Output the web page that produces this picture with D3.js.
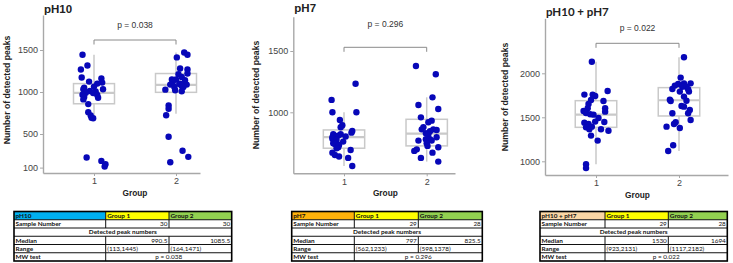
<!DOCTYPE html>
<meta charset="utf-8">
<style>
body { margin: 0; background: #fff; }
svg { display: block; }
svg text { font-family: "Liberation Sans", Arial, sans-serif; }
.axis .domain { stroke: #a8a8a8; stroke-width: 1.4; }
.axis .tick line { stroke: #a8a8a8; }
.axis .tick text { fill: #444; font-size: 9px; font-family: "Liberation Sans", Arial, sans-serif; }
.tbl text { font-family: Lato, "Liberation Sans", sans-serif; font-size: 6.4px; fill: #111; }
</style>
<body>
<svg width="733" height="263"></svg>
<script src="https://d3js.org/d3.v7.min.js"></script>
<script>
// values; jitter kept as group value + offset
var ph10G1 = [1444,1316,1268,1172,1160,1124,1112,1100,1064,1050,1032,1032,1012,1008,992,988,968,964,940,932,912,856,760,720,692,688,220,180,140,113];
var ph10G1X = [0.86,0.92,0.84,0.85,1.09,0.94,1.10,1.04,1.00,0.88,0.87,1.11,0.95,1.02,0.90,0.99,0.86,1.04,0.88,1.05,0.87,0.93,0.93,0.96,0.97,0.99,0.91,1.09,1.14,1.13];
var ph10G2 = [1471,1444,1412,1280,1268,1220,1212,1180,1148,1148,1140,1120,1100,1096,1088,1083,1088,1072,1060,1060,1028,1020,1008,840,800,724,468,300,228,164];
var ph10G2X = [2.10,2.14,2.01,2.05,2.14,2.14,2.03,2.07,2.00,1.95,2.11,1.96,2.05,2.04,1.93,2.09,2.13,2.07,1.98,2.09,1.87,1.99,2.07,1.91,1.91,1.88,1.91,2.08,2.15,1.93];

var ph7G1 = [1233,1101,1000,1000,937,894,878,848,834,821,821,810,802,802,797,785,775,761,747,742,734,715,707,693,671,652,639,628,562];
var ph7G1X = [1.14,0.85,0.86,1.15,0.95,0.98,0.96,1.10,1.09,0.87,0.96,0.93,0.90,1.02,0.86,0.86,0.91,0.99,0.87,0.89,0.94,0.93,0.91,1.08,0.86,0.89,0.94,1.05,1.10];
var ph7G2 = [1378,1310,1122,1060,1027,959,932,919,878,861,861,856,845,830,821,796,780,780,769,769,747,726,715,698,685,671,628,598];
var ph7G2X = [1.87,2.11,2.07,1.90,2.14,1.93,2.06,2.02,1.96,1.94,2.08,2.12,2.04,1.99,2.02,2.12,1.99,2.04,1.90,2.06,2.00,2.01,2.14,1.88,1.85,2.07,1.93,2.14];

var bothG1 = [2131,1799,1758,1758,1742,1697,1686,1652,1602,1602,1572,1564,1549,1535,1530,1492,1451,1447,1439,1424,1394,1386,1364,1364,1348,1292,1235,966,923];
var bothG1X = [0.95,1.14,0.86,0.96,0.99,0.94,1.09,0.91,0.90,1.11,0.85,1.11,0.88,0.93,0.97,1.03,0.99,1.10,0.86,0.91,0.95,0.88,0.92,1.06,1.15,0.94,1.02,0.88,0.88];
var bothG2 = [2182,1951,1886,1886,1879,1860,1848,1848,1822,1820,1792,1792,1735,1700,1688,1686,1629,1621,1583,1546,1546,1470,1443,1424,1394,1379,1182,1117];
var bothG2X = [2.06,2.02,2.06,2.14,1.99,1.95,2.04,2.09,1.92,2.11,2.01,2.12,2.06,1.89,2.09,1.90,2.03,2.06,2.13,2.11,1.92,2.14,1.96,1.94,1.85,2.01,1.93,1.87];

// box stats: [lower whisker, Q1, median, Q3, upper whisker]
var ph10Box = [[700,860,990.5,1100,1444],[740,996,1085.5,1220,1471]];
var ph7Box = [[562,707,797,856,1000],[598,726,825.5,943,1122]];
var bothBox = [[966,1386,1530,1689,2131],[1117,1515,1694,1837,2182]];

var ph10Ticks = [100,500,1000,1500];
var ph7Ticks = [1000,1500];
var bothTicks = [1000,1500,2000];

// table contents
var titles = ["pH10","pH7","pH10 + pH7"];
var sampleN = [[30,30],[29,28],[29,28]];
var medians = [["990.5","1085.5"],["797","825.5"],["1530","1694"]];
var ranges = [["(113,1445)","(164,1471)"],["(562,1233)","(598,1378)"],["(923,2131)","(1117,2182)"]];
var pValues = ["0.038","0.296","0.022"];

var svg = d3.select("svg");
var dotColor = "#0707b8", boxColor = "#c9c9c9";

var panels = [
  {title: titles[0], g1: ph10G1, g1x: ph10G1X, g2: ph10G2, g2x: ph10G2X, box: ph10Box, ticks: ph10Ticks,
   left: 43, right: 200, top: 15, bottom: 173, px1: 94, px2: 176, yA: [1000, 92], yB: [1500, 50],
   bracketY: 40, pY: 27.5, titleY: 12.5, ylabX: 9.5, ylabY: 90, titleFont: "Liberation Sans",
   head: "#00b0f0", tbl: [14, 105.7, 169, 231.7]},
  {title: titles[1], g1: ph7G1, g1x: ph7G1X, g2: ph7G2, g2x: ph7G2X, box: ph7Box, ticks: ph7Ticks,
   left: 293.3, right: 455, top: 16.7, bottom: 173.3, px1: 344, px2: 426.7, yA: [1000, 112.3], yB: [1500, 51],
   bracketY: 47.3, pY: 27, titleY: 12, ylabX: 258.5, ylabY: 95, titleFont: "Liberation Sans",
   head: "#ffb20a", tbl: [291.7, 354.3, 418.3, 482.3]},
  {title: titles[2], g1: bothG1, g1x: bothG1X, g2: bothG2, g2x: bothG2X, box: bothBox, ticks: bothTicks,
   left: 545, right: 728, top: 18.3, bottom: 175, px1: 596, px2: 679, yA: [1000, 161.3], yB: [2000, 73.3],
   bracketY: 43.3, pY: 30.5, titleY: 15.5, ylabX: 508, ylabY: 97, titleFont: "Lato",
   head: "#fad6a5", tbl: [540, 605, 668.3, 727.3]}
];

panels.forEach(function(p, i) {
  var g = svg.append("g");

  var y = d3.scaleLinear().domain([p.yA[0], p.yB[0]]).range([p.yA[1], p.yB[1]]);
  y.domain([y.invert(p.bottom), y.invert(p.top)]).range([p.bottom, p.top]);
  var x = d3.scaleLinear().domain([1, 2]).range([p.px1, p.px2]);
  x.domain([x.invert(p.left), x.invert(p.right)]).range([p.left, p.right]);

  g.append("g")
      .attr("class", "axis")
      .attr("transform", "translate(" + p.left + ",0)")
      .call(d3.axisLeft(y).tickValues(p.ticks).tickFormat(d3.format("d")).tickSize(3).tickSizeOuter(0).tickPadding(2));

  g.append("g")
      .attr("class", "axis")
      .attr("transform", "translate(0," + p.bottom + ")")
      .call(d3.axisBottom(x).tickValues([1, 2]).tickFormat(d3.format("d")).tickSize(3).tickSizeOuter(0).tickPadding(2));

  // boxes
  p.box.forEach(function(b, k) {
    var c = k + 1, hw = 0.25;
    g.append("line")
        .attr("x1", x(c)).attr("x2", x(c))
        .attr("y1", y(b[4])).attr("y2", y(b[3]))
        .attr("stroke", boxColor).attr("stroke-width", 1.5);
    g.append("line")
        .attr("x1", x(c)).attr("x2", x(c))
        .attr("y1", y(b[1])).attr("y2", y(b[0]))
        .attr("stroke", boxColor).attr("stroke-width", 1.5);
    g.append("rect")
        .attr("x", x(c - hw)).attr("width", x(c + hw) - x(c - hw))
        .attr("y", y(b[3])).attr("height", y(b[1]) - y(b[3]))
        .attr("fill", "none").attr("stroke", boxColor).attr("stroke-width", 1.5);
    g.append("line")
        .attr("x1", x(c - hw)).attr("x2", x(c + hw))
        .attr("y1", y(b[2])).attr("y2", y(b[2]))
        .attr("stroke", boxColor).attr("stroke-width", 2.2);
  });

  // jittered points
  var pts = p.g1.map(function(v, j) { return {v: v, x: p.g1x[j]}; })
      .concat(p.g2.map(function(v, j) { return {v: v, x: p.g2x[j]}; }));
  g.append("g").selectAll("circle")
    .data(pts)
    .enter().append("circle")
      .attr("cx", function(d) { return x(d.x); })
      .attr("cy", function(d) { return y(d.v); })
      .attr("r", 3.2)
      .attr("fill", dotColor);

  // significance bracket
  g.append("path")
      .attr("d", "M" + x(1) + "," + (p.bracketY + 4.5) + "V" + p.bracketY + "H" + x(2) + "V" + (p.bracketY + 4.5))
      .attr("fill", "none").attr("stroke", "#8a8a8a").attr("stroke-width", 1);
  g.append("text")
      .attr("x", (x(1) + x(2)) / 2).attr("y", p.pY)
      .attr("text-anchor", "middle")
      .style("font-size", "8.5px").attr("fill", "#333")
      .text("p = " + pValues[i]);

  g.append("text")
      .attr("x", p.left + 1).attr("y", p.titleY)
      .style("font-family", p.titleFont)
      .style("font-size", "11.5px").style("font-weight", "bold").attr("fill", "#222")
      .text(p.title);

  g.append("text")
      .attr("transform", "translate(" + p.ylabX + "," + p.ylabY + ") rotate(-90)")
      .attr("text-anchor", "middle")
      .style("font-size", "8.7px").style("font-weight", "bold").attr("fill", "#222")
      .text("Number of detected peaks");

  g.append("text")
      .attr("x", (x(1) + x(2)) / 2).attr("y", p.bottom + 22.5)
      .attr("text-anchor", "middle")
      .style("font-size", "8.3px").style("font-weight", "bold").attr("fill", "#222")
      .text("Group");

  drawTable(p, i);
});

function drawTable(p, i) {
  var c = p.tbl, top = 211.5, rh = 8.25;
  var t = svg.append("g").attr("class", "tbl");
  var rowY = function(r) { return top + r * rh; };

  // header fills
  [[c[0], c[1], p.head], [c[1], c[2], "#ffff00"], [c[2], c[3], "#92d050"]].forEach(function(h) {
    t.append("rect").attr("x", h[0]).attr("y", top).attr("width", h[1] - h[0]).attr("height", rh).attr("fill", h[2]);
  });

  // grid
  var lines = [];
  for (var r = 1; r < 6; r++) lines.push([c[0], rowY(r), c[3], rowY(r)]);
  [0, 1, 3, 4].forEach(function(r) { lines.push([c[1], rowY(r), c[1], rowY(r + 1)]); });
  lines.push([c[1], rowY(5), c[1], rowY(6)]);
  [0, 1, 3, 4].forEach(function(r) { lines.push([c[2], rowY(r), c[2], rowY(r + 1)]); });
  t.selectAll("line").data(lines).enter().append("line")
      .attr("x1", function(d) { return d[0]; }).attr("y1", function(d) { return d[1]; })
      .attr("x2", function(d) { return d[2]; }).attr("y2", function(d) { return d[3]; })
      .attr("stroke", "#111").attr("stroke-width", 1);
  t.append("rect").attr("x", c[0]).attr("y", top).attr("width", c[3] - c[0]).attr("height", 6 * rh)
      .attr("fill", "none").attr("stroke", "#000").attr("stroke-width", 1.6);

  var cells = [
    [0, c[0] + 1.5, "start", p.title, true],
    [0, c[1] + 1.5, "start", "Group 1", true],
    [0, c[2] + 1.5, "start", "Group 2", true],
    [1, c[0] + 1.5, "start", "Sample Number", true],
    [1, c[2] - 1.5, "end", sampleN[i][0], false],
    [1, c[3] - 1.5, "end", sampleN[i][1], false],
    [2, (c[0] + c[3]) / 2, "middle", "Detected peak numbers", true],
    [3, c[0] + 1.5, "start", "Median", true],
    [3, c[2] - 1.5, "end", medians[i][0], false],
    [3, c[3] - 1.5, "end", medians[i][1], false],
    [4, c[0] + 1.5, "start", "Range", true],
    [4, c[1] + 1.5, "start", ranges[i][0], false],
    [4, c[2] + 1.5, "start", ranges[i][1], false],
    [5, c[0] + 1.5, "start", "MW test", true],
    [5, (c[1] + c[3]) / 2, "middle", "p = " + pValues[i], false]
  ];
  t.selectAll("text").data(cells).enter().append("text")
      .attr("x", function(d) { return d[1]; })
      .attr("y", function(d) { return rowY(d[0]) + rh / 2 + 2.2; })
      .attr("text-anchor", function(d) { return d[2]; })
      .style("font-weight", function(d) { return d[4] ? "bold" : "normal"; })
      .text(function(d) { return d[3]; });
}
</script>
